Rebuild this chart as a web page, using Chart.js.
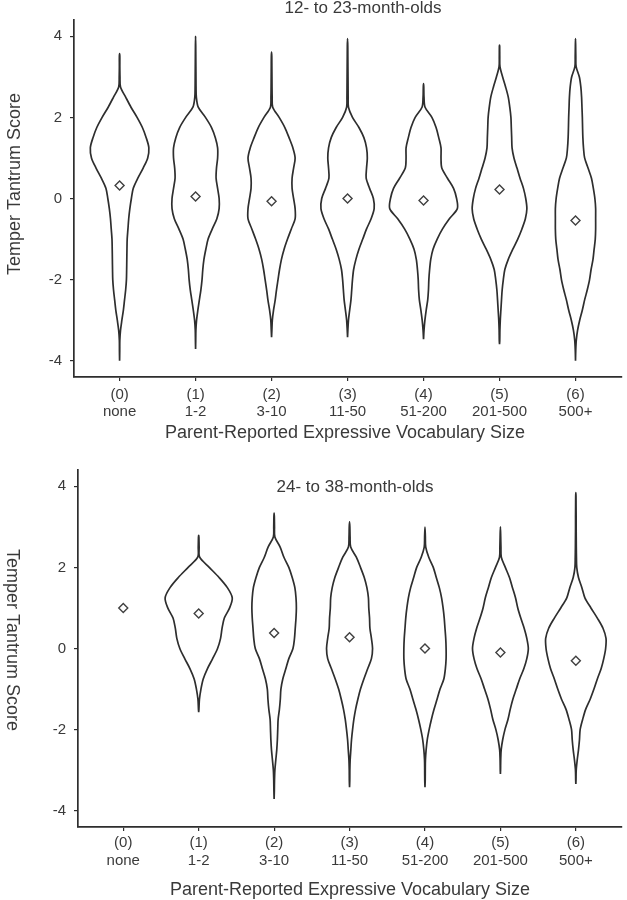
<!DOCTYPE html>
<html>
<head>
<meta charset="utf-8">
<title>Temper Tantrum Score by Vocabulary Size</title>
<script src="https://cdn.jsdelivr.net/npm/chart.js@4.4.0/dist/chart.umd.min.js"></script>
<style>
  body { margin: 0; background: #fff; }
  canvas { display: block; }
</style>
</head>
<body>
<canvas id="chart12" width="627" height="450"></canvas>
<canvas id="chart24" width="627" height="450"></canvas>
<script>
'use strict';

// ************************** DATA ****************************************** //
const categories = [
  ['(0)', 'none'], ['(1)', '1-2'], ['(2)', '3-10'], ['(3)', '11-50'],
  ['(4)', '51-200'], ['(5)', '201-500'], ['(6)', '500+']
];
const yTicks = [-4, -2, 0, 2, 4];
const xTitle = 'Parent-Reported Expressive Vocabulary Size';
const yTitle = 'Temper Tantrum Score';

// score levels where the violin half-widths were read (in category units)
const levels = [4, 3.75, 3.5, 3.25, 3, 2.75, 2.5, 2.25, 2, 1.75, 1.5, 1.25, 1, 0.75, 0.5, 0.25, 0,
  -0.25, -0.5, -0.75, -1, -1.25, -1.5, -1.75, -2, -2.25, -2.5, -2.75, -3, -3.25, -3.5, -3.75, -4];

// 12- to 23-month-olds
const means12 = [0.32, 0.05, -0.07, 0.0, -0.05, 0.22, -0.54];
const tops12 = [3.57, 4.0, 3.61, 3.94, 2.83, 3.78, 3.94];
const bottoms12 = [-4.0, -3.71, -3.42, -3.42, -3.47, -3.59, -4.0];
const widths12 = [
  [null, null, .003, .003, .005, .012, .08, .15, .23, .30, .35, .385, .37, .31, .24, .18, .155, .135, .12, .11, .10, .097, .095, .093, .09, .08, .065, .05, .03, .012, .003, .002, null],
  [null, .002, .003, .004, .005, .006, .01, .035, .13, .21, .26, .29, .29, .275, .27, .29, .31, .31, .28, .22, .165, .135, .11, .095, .085, .07, .05, .03, .013, .004, .002, null, null],
  [null, null, .003, .004, .005, .006, .008, .015, .10, .175, .23, .28, .31, .29, .27, .27, .29, .31, .31, .26, .21, .165, .13, .105, .085, .065, .048, .026, .01, .004, null, null, null],
  [null, .003, .004, .005, .006, .007, .008, .012, .065, .15, .215, .25, .26, .25, .245, .29, .34, .35, .31, .25, .2, .15, .11, .08, .065, .055, .045, .028, .012, .004, null, null, null],
  [null, null, null, null, null, .003, .006, .02, .11, .165, .2, .23, .23, .24, .315, .395, .435, .445, .34, .25, .18, .125, .095, .08, .07, .065, .055, .035, .018, .006, null, null, null],
  [null, .002, .003, .006, .04, .08, .115, .135, .15, .155, .16, .165, .19, .23, .27, .315, .345, .36, .34, .295, .24, .175, .115, .07, .05, .035, .026, .018, .01, .005, .003, null, null],
  [null, .002, .004, .008, .05, .07, .08, .085, .09, .093, .097, .105, .12, .165, .21, .235, .255, .265, .265, .265, .26, .245, .23, .205, .185, .155, .12, .09, .055, .027, .01, .003, null]
];

// 24- to 38-month-olds (group 0 has a single child, so no violin)
const means24 = [1.0, 0.86, 0.38, 0.28, 0.0, -0.1, -0.3];
const tops24 = [null, 2.79, 3.34, 3.12, 2.99, 3.0, 3.84];
const bottoms24 = [null, -1.57, -3.71, -3.42, -3.42, -3.09, -3.34];
const widths24 = [
  null,
  [null, null, null, null, null, .003, .006, .013, .14, .27, .38, .445, .41, .34, .31, .29, .25, .185, .115, .06, .03, .01, .003, null, null, null, null, null, null, null, null, null, null],
  [null, null, null, .003, .005, .01, .08, .13, .195, .24, .275, .29, .295, .29, .28, .27, .25, .195, .155, .115, .09, .082, .07, .053, .048, .043, .035, .022, .01, .005, .003, null, null],
  [null, null, null, null, .004, .007, .015, .09, .145, .195, .23, .25, .255, .265, .27, .29, .305, .29, .24, .19, .145, .11, .08, .057, .04, .026, .017, .008, .004, .003, null, null, null],
  [null, null, null, null, null, .005, .01, .05, .11, .15, .19, .22, .24, .255, .265, .275, .28, .28, .27, .25, .2, .16, .12, .085, .055, .03, .015, .006, .004, .003, null, null, null],
  [null, null, null, null, null, .004, .007, .012, .065, .12, .16, .2, .23, .27, .315, .35, .37, .35, .31, .255, .21, .165, .13, .1, .06, .03, .01, .004, .002, null, null, null, null],
  [null, .002, .003, .004, .004, .005, .006, .008, .012, .035, .08, .12, .2, .285, .36, .4, .395, .37, .335, .285, .24, .19, .13, .09, .057, .048, .035, .018, .005, .002, null, null, null]
];

// ************************** STYLE ***************************************** //
const inkColor = '#2e2e2e';
const textColor = '#3a3a3a';
const fontFamily = '"Liberation Sans", Arial, Helvetica, sans-serif';

// ************************** HELPERS *************************************** //
function buildDatasets(widths, tops, bottoms, means) {
  let datasets = [];

  for(let i = 0; i < categories.length; i++) {
    if(widths[i] === null) {
      continue;
    }
    // up the right side, then down the left side
    let points = [{x: i, y: bottoms[i]}];
    for(let k = levels.length - 1; k >= 0; k--) {
      if(widths[i][k] !== null) {
        points.push({x: i + widths[i][k], y: levels[k]});
      }
    }
    points.push({x: i, y: tops[i]});
    for(let k = 0; k < levels.length; k++) {
      if(widths[i][k] !== null) {
        points.push({x: i - widths[i][k], y: levels[k]});
      }
    }
    points.push({x: i, y: bottoms[i]});

    datasets.push({
      data: points,
      borderColor: inkColor,
      borderWidth: 1.7,
      pointRadius: 0,
      tension: 0.3,
      fill: false
    });
  }

  let meanPoints = [];
  for(let i = 0; i < means.length; i++) {
    meanPoints.push({x: i, y: means[i]});
  }
  datasets.push({
    data: meanPoints,
    showLine: false,
    pointStyle: 'rectRot',
    pointRadius: 4.5,
    pointBorderWidth: 1.4,
    pointBorderColor: '#404040',
    pointBackgroundColor: '#ffffff'
  });

  return datasets;
}

const panelText = {
  id: 'panelText',
  afterDraw(chart, args, opts) {
    const ctx = chart.ctx;
    const area = chart.chartArea;
    ctx.save();
    ctx.fillStyle = textColor;
    ctx.textAlign = 'center';
    ctx.textBaseline = 'middle';

    ctx.font = '17px ' + fontFamily;
    ctx.fillText(opts.title, opts.titleX, area.top + opts.titleDy);

    ctx.font = '18px ' + fontFamily;
    ctx.fillText(xTitle, opts.xTitleX, area.bottom + opts.xTitleDy);

    ctx.translate(opts.yTitleX, area.top + opts.yTitleDy);
    ctx.rotate(opts.yTitleAngle);
    ctx.fillText(yTitle, 0, 0);
    ctx.restore();
  }
};

function makeOptions(text, axisWidth, rightPad, tickPad, lineHeight) {
  return {
    responsive: false,
    animation: false,
    layout: {padding: {top: 20, right: rightPad, bottom: 0, left: 0}},
    plugins: {
      legend: {display: false},
      tooltip: {enabled: false},
      panelText: text
    },
    scales: {
      x: {
        type: 'linear',
        min: -0.6,
        max: 6.6,
        afterBuildTicks: (axis) => {
          axis.ticks = categories.map((c, i) => ({value: i}));
        },
        afterFit: (axis) => {
          axis.height = 73;
        },
        ticks: {
          callback: (value, index) => categories[index],
          color: textColor,
          font: {family: fontFamily, size: 15, lineHeight: lineHeight},
          padding: tickPad,
          maxRotation: 0,
          autoSkip: false
        },
        grid: {drawOnChartArea: false, tickLength: 4, color: inkColor, lineWidth: 1.2},
        border: {color: inkColor, width: 1.7}
      },
      y: {
        min: -4.4,
        max: 4.4,
        afterBuildTicks: (axis) => {
          axis.ticks = yTicks.map((v) => ({value: v}));
        },
        afterFit: (axis) => {
          axis.width = axisWidth;
        },
        ticks: {
          color: textColor,
          font: {family: fontFamily, size: 15},
          padding: 8
        },
        grid: {drawOnChartArea: false, tickLength: 4, color: inkColor, lineWidth: 1.2},
        border: {color: inkColor, width: 1.7}
      }
    }
  };
}

// ************************** CHARTS **************************************** //
new Chart(document.getElementById('chart12'), {
  type: 'line',
  data: {datasets: buildDatasets(widths12, tops12, bottoms12, means12)},
  options: makeOptions({
    title: '12- to 23-month-olds', titleX: 363, titleDy: -12,
    xTitleX: 345, xTitleDy: 56,
    yTitleX: 15, yTitleDy: 164, yTitleAngle: -Math.PI / 2
  }, 74, 5, 5, 1.15),
  plugins: [panelText]
});

new Chart(document.getElementById('chart24'), {
  type: 'line',
  data: {datasets: buildDatasets(widths24, tops24, bottoms24, means24)},
  options: makeOptions({
    title: '24- to 38-month-olds', titleX: 355, titleDy: 17,
    xTitleX: 350, xTitleDy: 63,
    yTitleX: 12, yTitleDy: 170, yTitleAngle: Math.PI / 2
  }, 78, 2, 3, 1.2),
  plugins: [panelText]
});
</script>
</body>
</html>
